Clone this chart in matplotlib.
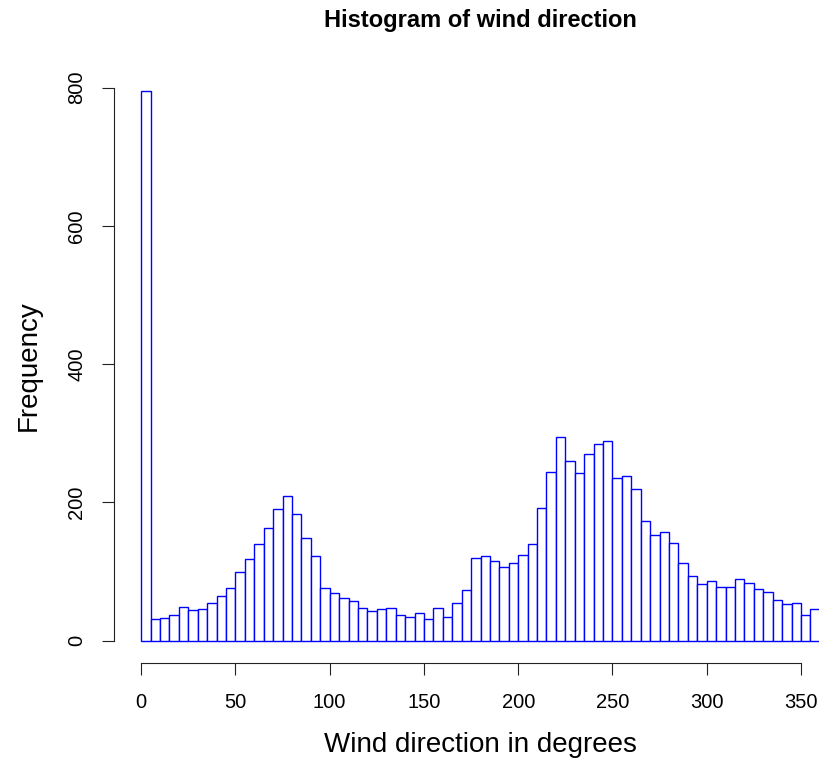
import numpy as np
import matplotlib
matplotlib.use("Agg")
import matplotlib.pyplot as plt

# Wind direction counts in 5-degree bins from 0 to 360
bin_width = 5
bin_edges = np.arange(0, 360 + bin_width, bin_width)
counts = [
    795, 31, 33, 37, 49, 45, 46, 54, 64, 76,
    99, 118, 140, 163, 190, 209, 184, 148, 123, 76,
    69, 62, 57, 48, 43, 46, 47, 37, 35, 40,
    31, 47, 34, 55, 74, 120, 123, 116, 106, 112,
    124, 140, 192, 244, 294, 260, 243, 270, 285, 289,
    236, 238, 220, 173, 153, 157, 141, 112, 93, 82,
    86, 78, 78, 90, 84, 75, 70, 59, 53, 55,
    37, 46,
]
x_ticks = [0, 50, 100, 150, 200, 250, 300, 350]
y_ticks = [0, 200, 400, 600, 800]

title = "Histogram of wind direction"
x_label = "Wind direction in degrees"
y_label = "Frequency"

plt.rcParams["font.family"] = ["Liberation Sans", "DejaVu Sans"]

W, H = 820, 763
fig = plt.figure(figsize=(W / 100, H / 100), dpi=100)

# plot region: 4% padding around data range, as in base R graphics
x_lo, x_hi = bin_edges[0], bin_edges[-1]
y_hi = max(counts)
xpad = 0.04 * (x_hi - x_lo)
ypad = 0.04 * y_hi
left_px, right_px = 114, 847
top_px, bottom_px = 69.2, 662.7
ax = fig.add_axes([left_px / W, 1 - bottom_px / H,
                   (right_px - left_px) / W, (bottom_px - top_px) / H])
ax.set_xlim(x_lo - xpad, x_hi + xpad)
ax.set_ylim(-ypad, y_hi + ypad)

ax.bar(bin_edges[:-1], counts, width=bin_width, align="edge",
       facecolor="white", edgecolor="#0000FF", linewidth=1.0)

for side in ("top", "right"):
    ax.spines[side].set_visible(False)
ax.spines["left"].set_bounds(y_ticks[0], y_ticks[-1])
ax.spines["bottom"].set_bounds(x_ticks[0], x_ticks[-1])
for side in ("left", "bottom"):
    ax.spines[side].set_linewidth(0.8)
    ax.spines[side].set_color("#222222")

ax.set_xticks(x_ticks)
ax.set_yticks(y_ticks)
ax.set_xticklabels([str(t) for t in x_ticks])
ax.set_yticklabels([str(t) for t in y_ticks], rotation=90, va="center")
ax.tick_params(axis="both", length=8.9, width=0.8, color="#222222",
               labelsize=14.5, labelcolor="black")
ax.tick_params(axis="x", pad=13)
ax.tick_params(axis="y", pad=11)

fig.text(480 / W, 1 - 27 / H, title, ha="center", va="baseline",
         fontsize=17, fontweight="bold")
fig.text(480 / W, 1 - 752 / H, x_label, ha="center", va="baseline",
         fontsize=20)
fig.text(36 / W, 1 - 365.5 / H, y_label, ha="center", va="baseline",
         rotation=90, rotation_mode="anchor", fontsize=20)

fig.savefig("out.png", dpi=100)
